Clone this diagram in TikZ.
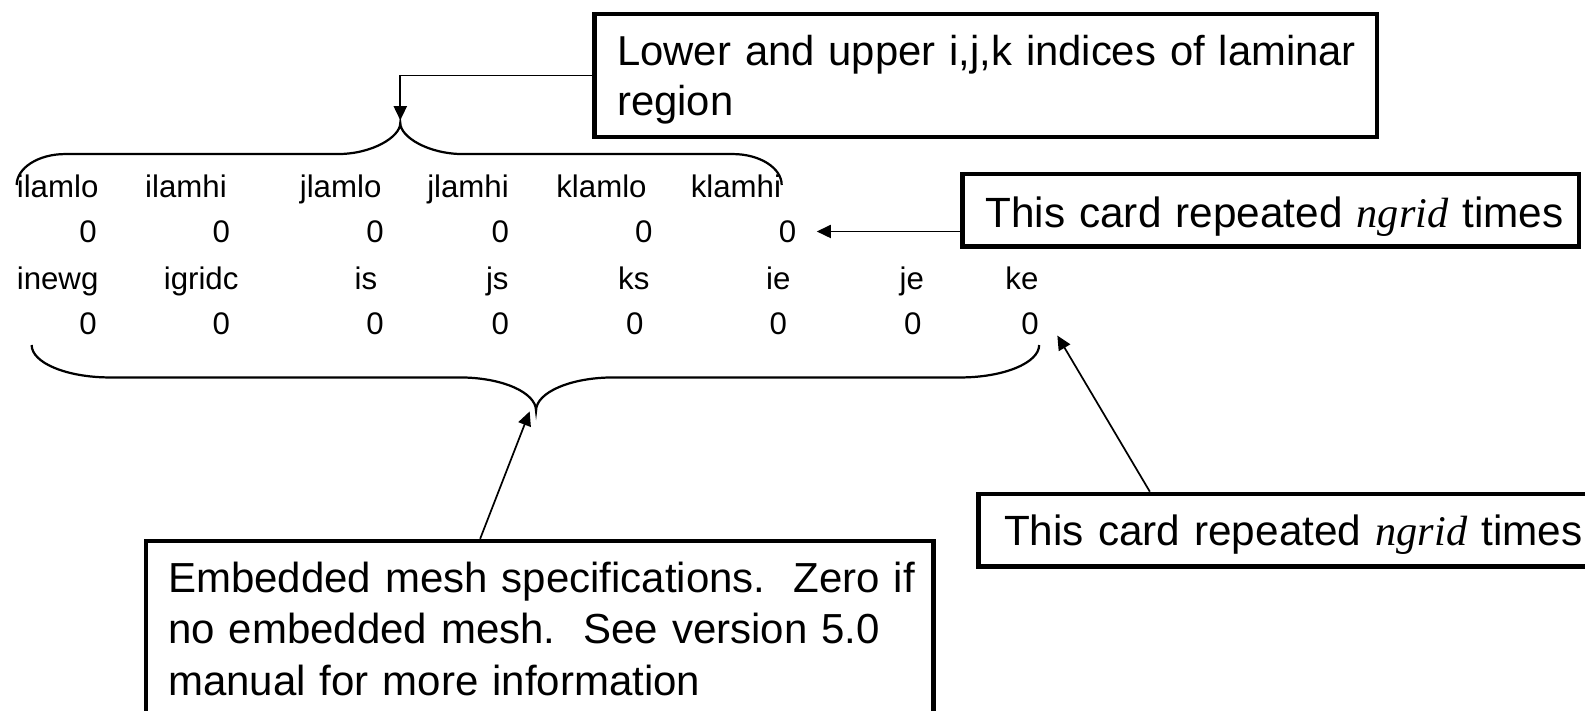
\documentclass[tikz,border=0pt]{standalone}
\usepackage{fontspec}
\setmainfont{Liberation Sans}
\newfontfamily\varfont{Liberation Serif}
\usetikzlibrary{arrows.meta}

\begin{document}
\begin{tikzpicture}[x=1bp,y=-1bp,
  callout/.style={draw, line width=4.5bp, rectangle, inner ysep=0pt,
    anchor=north west, align=left},
  big/.style={font=\fontsize{41.6}{50}\selectfont},
  field/.style={inner sep=0pt, anchor=base, font=\fontsize{31}{36}\selectfont},
  lead/.style={line width=1.7bp, -{Triangle[length=14bp,width=13bp]}},
  brace/.style={line width=2.2bp}
]
\useasboundingbox (0,0) rectangle (1568,703);
\clip (0,0) rectangle (1568,703);

% laminar-region card
\node[field] (a1) at (57,195) {ilamlo};
\node[field] (a2) at (184,195) {ilamhi};
\node[field] (a3) at (337,195) {jlamlo};
\node[field] (a4) at (463,195) {jlamhi};
\node[field] (a5) at (595,195) {klamlo};
\node[field] (a6) at (728,195) {klamhi};
\node[field] (b1) at (87,240) {0};
\node[field] (b2) at (219,240) {0};
\node[field] (b3) at (371,240) {0};
\node[field] (b4) at (495,240) {0};
\node[field] (b5) at (637,240) {0};
\node[field] (b6) at (779,240) {0};

% embedded-mesh card
\node[field] (c1) at (57,286) {inewg};
\node[field] (c2) at (199,286) {igridc};
\node[field] (c3) at (362,286) {is};
\node[field] (c4) at (492,286) {js};
\node[field] (c5) at (627,286) {ks};
\node[field] (c6) at (770,286) {ie};
\node[field] (c7) at (902,286) {je};
\node[field] (c8) at (1011,286) {ke};
\node[field] (d1) at (87,331) {0};
\node[field] (d2) at (219,331) {0};
\node[field] (d3) at (371,331) {0};
\node[field] (d4) at (495,331) {0};
\node[field] (d5) at (628,331) {0};
\node[field] (d6) at (770,331) {0};
\node[field] (d7) at (903,331) {0};
\node[field] (d8) at (1019,331) {0};

% braces (cusp points named)
\coordinate (tb) at (396,121.7);
\coordinate (bb) at (530.3,406.3);
\draw[brace] (16.5,183) .. controls (16.5,166.1) and (38,152.4) .. (64.5,152.4) -- (334,152.4)
  .. controls (368.2,152.4) and (396,135.5) .. (tb)
  .. controls (396,135.5) and (423.8,152.4) .. (458,152.4) -- (725,152.4)
  .. controls (751.5,152.4) and (773.3,166.1) .. (773.3,183);
\draw[brace] (31.3,341.3) .. controls (31.3,359) and (66,373.4) .. (108.8,373.4) -- (455,373.4)
  .. controls (496.4,373.4) and (530.3,388.1) .. (bb)
  .. controls (530.3,388.1) and (564.7,373.4) .. (606.6,373.4) -- (950,373.4)
  .. controls (992.8,373.4) and (1028,359) .. (1028,341.3);

% callouts
\node[callout, big, font=\fontsize{41.5}{50}\selectfont, inner xsep=22.4bp, text width=729bp] (lam) at (586,11.4)
  {\mbox{\rule{0pt}{50.9bp}Lower and upper i,j,k indices of laminar}\\
   \mbox{region\rule[-21.3bp]{0pt}{0pt}}};
\node[callout, big, font=\fontsize{42}{50}\selectfont, inner xsep=22.5bp, text width=565bp] (rep1) at (950,169.7)
  {\mbox{\rule[-18.8bp]{0pt}{71.7bp}This card repeated {\varfont\itshape ngrid} times}};
\node[callout, big, font=\fontsize{42}{50}\selectfont, inner xsep=25.5bp, text width=580bp] (rep2) at (965.5,486.4)
  {\mbox{\rule[-20.5bp]{0pt}{71.6bp}This card repeated {\varfont\itshape ngrid} times}};
\node[callout, big, font=\fontsize{41.7}{51}\selectfont, inner xsep=22bp, text width=735bp] (emb) at (142,533)
  {\mbox{\rule{0pt}{51bp}Embedded mesh specifications.\ \ Zero if}\\
   \mbox{no embedded mesh.\ \ See version 5.0}\\
   \mbox{manual for more information\rule[-34bp]{0pt}{0pt}}};

% leaders
\coordinate (t0) at (396,119);
\coordinate (t1) at (808,229);
\coordinate (t2) at (1046,332);
\coordinate (t3) at (524,407);
\draw[lead] (lam.west) -| (t0);
\draw[lead] (rep1.west |- t1) -- (t1);
\draw[lead] ([xshift=172bp]rep2.north west) -- (t2);
\draw[lead] ([xshift=333bp]emb.north west) -- (t3);
\end{tikzpicture}
\end{document}
